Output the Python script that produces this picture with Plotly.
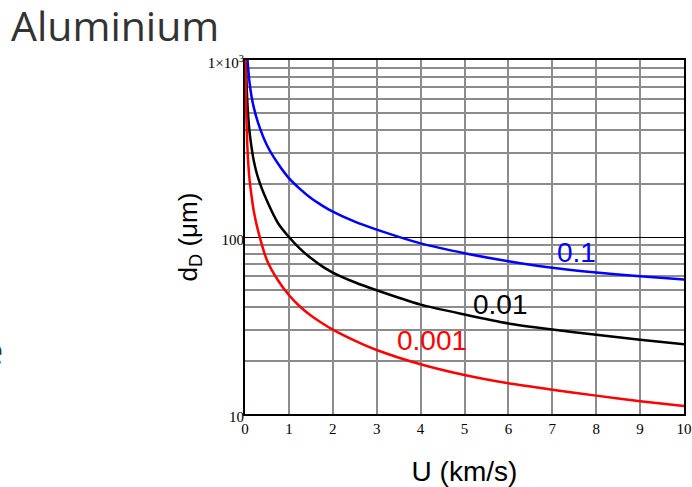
import math
import plotly.graph_objects as go

# Data
U_blue = [0.05, 0.1, 0.15, 0.2, 0.3, 0.5, 0.75, 1, 1.25, 1.5, 1.75, 2, 2.5, 3, 4, 5, 6, 7, 8, 9, 10]
d_blue = [1050, 760, 620, 540, 440, 330, 260, 215, 187, 166, 151, 139, 122, 110, 92, 81, 73, 67, 63, 60, 57.5]

U_black = [0.02, 0.05, 0.1, 0.15, 0.2, 0.3, 0.5, 0.75, 1, 1.25, 1.5, 1.75, 2, 2.5, 3, 4, 5, 6, 7, 8, 9, 10]
d_black = [1000, 600, 400, 320, 270, 215, 160, 120, 100, 86, 76, 68.5, 63, 55.5, 50, 41.5, 36.5, 32.5, 30, 28, 26.3, 24.8]

U_red = [0.01, 0.02, 0.05, 0.1, 0.15, 0.2, 0.3, 0.5, 0.75, 1, 1.25, 1.5, 1.75, 2, 2.5, 3, 4, 5, 6, 7, 8, 9, 10]
d_red = [1000, 620, 340, 215, 170, 140, 108, 74, 57, 47, 40.5, 36, 32.7, 30, 26, 23, 19.1, 16.6, 14.9, 13.7, 12.7, 11.8, 11.1]

series_labels = ["0.1", "0.01", "0.001"]
label_U = [7.54, 5.83, 4.25]
label_d = [81.9, 41.4, 25.9]

x_ticks = list(range(0, 11))
y_ticks = [10, 100, 1000]
y_ticktext = ["10", "100", "1×10<sup>3</sup>"]
y_minor = [20, 30, 40, 50, 60, 70, 80, 90, 200, 300, 400, 500, 600, 700, 800, 900]

colors = ["#0000ff", "#000000", "#ff0000"]

fig = go.Figure()
for U, d, c in [(U_blue, d_blue, colors[0]), (U_black, d_black, colors[1]), (U_red, d_red, colors[2])]:
    fig.add_trace(go.Scatter(x=U, y=d, mode="lines",
                             line=dict(color=c, width=2.5, shape="spline", smoothing=0.6),
                             showlegend=False, hoverinfo="skip"))

for t, ux, dy, c in zip(series_labels, label_U, label_d, colors):
    fig.add_annotation(x=ux, y=math.log10(dy), yref="y", xref="x", text=t, showarrow=False,
                       font=dict(family="Liberation Sans, Arial", size=28, color=c),
                       xanchor="center", yanchor="middle")

fig.add_annotation(xref="paper", yref="paper", x=-0.537, y=1.10, text="Aluminium", showarrow=False,
                   xanchor="left", yanchor="middle",
                   font=dict(family="Open Sans", size=41, color="#333333"))
fig.add_annotation(xref="paper", yref="paper", x=-0.547, y=0.181, text="e", showarrow=False,
                   xanchor="right", yanchor="middle",
                   font=dict(family="Open Sans", size=40, color="#333333"))

fig.update_layout(
    width=692, height=487,
    margin=dict(l=245, r=8, t=60, b=73),
    paper_bgcolor="white", plot_bgcolor="white",
    xaxis=dict(range=[0, 10], tickvals=x_ticks, ticktext=[str(v) for v in x_ticks],
               automargin=False,
               showgrid=True, gridcolor="#8c8c8c", gridwidth=1.5,
               showline=True, linecolor="black", linewidth=2, mirror=True,
               ticks="", zeroline=False,
               tickfont=dict(family="Liberation Serif", size=15, color="black"),
               title=dict(text="U (km/s)", font=dict(family="Liberation Sans, Arial", size=28, color="black"),
                          standoff=27)),
    yaxis=dict(type="log", range=[1, 3], tickvals=y_ticks, ticktext=y_ticktext,
               automargin=False,
               showgrid=True, gridcolor="black", gridwidth=1,
               minor=dict(tickvals=y_minor, showgrid=True, gridcolor="#8c8c8c", gridwidth=1.5, ticks=""),
               showline=True, linecolor="black", linewidth=2, mirror=True,
               ticks="", zeroline=False, ticklabelstandoff=-4, ticklabelshift=3,
               tickfont=dict(family="Liberation Serif", size=15, color="black"),
               title=dict(text="d<sub>D</sub> (μm)", font=dict(family="Liberation Sans, Arial", size=26, color="black"),
                          standoff=3)),
)

fig.write_html("out.html", config={"displayModeBar": False},
               post_script="document.body.style.margin='0';document.body.style.overflow='hidden';")
